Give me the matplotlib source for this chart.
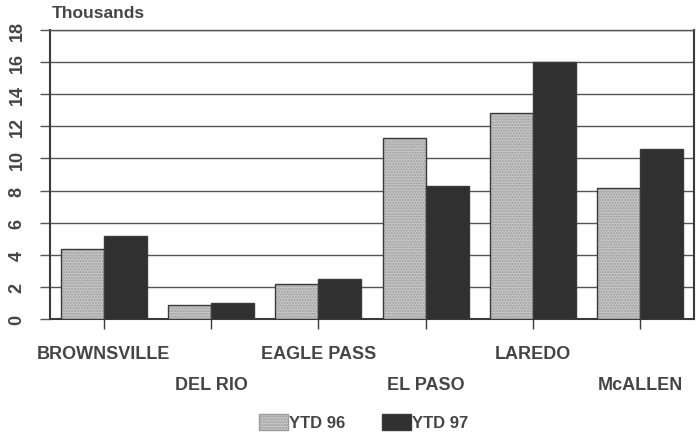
import matplotlib
matplotlib.use("Agg")
import matplotlib.pyplot as plt
import numpy as np
from matplotlib.patches import Patch

# Data (thousands)
PORTS = ["BROWNSVILLE", "DEL RIO", "EAGLE PASS", "EL PASO", "LAREDO", "McALLEN"]
YTD_96 = [4.35, 0.87, 2.2, 11.3, 12.85, 8.15]
YTD_97 = [5.15, 1.0, 2.5, 8.3, 16.0, 10.6]
SERIES = ["YTD 96", "YTD 97"]
Y_TICKS = [0, 2, 4, 6, 8, 10, 12, 14, 16, 18]

LIGHT = "#c6c6c6"
DOTS = "#9c9c9c"
DARK = "#303030"
LINE = "#3a3a3a"
TEXT = "#454545"

plt.rcParams["font.family"] = ["Liberation Sans", "DejaVu Sans"]
plt.rcParams["font.weight"] = "bold"

fig = plt.figure(figsize=(7, 4.35), dpi=100)
ax = fig.add_axes([50 / 700, 1 - 320 / 435, 644 / 700, 289 / 435])

x = np.arange(len(PORTS))
w = 0.4
# light bars: fine dotted fill, then outline on top
ax.bar(x - w / 2, YTD_96, w, color=LIGHT, edgecolor=DOTS, linewidth=0,
       hatch="......", zorder=3)
ax.bar(x - w / 2, YTD_96, w, fill=False, edgecolor=LINE, linewidth=1.0, zorder=4)
ax.bar(x + w / 2, YTD_97, w, color=DARK, edgecolor=LINE, linewidth=1.0, zorder=3)

ax.set_xlim(-0.5, len(PORTS) - 0.5)
ax.set_ylim(0, 18)
ax.set_yticks(Y_TICKS)
ax.set_yticklabels([str(t) for t in Y_TICKS], rotation=90, va="center",
                   fontsize=13, color=TEXT)
ax.yaxis.grid(True, color="#555555", linewidth=1.0, zorder=0)
ax.set_axisbelow(True)
ax.tick_params(axis="y", length=7.5, width=1.0, color="#555555", pad=10)

ax.set_xticks(x)
ax.set_xticklabels([""] * len(PORTS))
ax.tick_params(axis="x", length=7, width=1.0, color=LINE)

for i, name in enumerate(PORTS):
    off = -25 if i % 2 == 0 else -47
    ax.annotate(name, xy=(i, 0), xycoords=("data", "axes fraction"),
                xytext=(0, off), textcoords="offset points",
                ha="center", va="center", fontsize=13, color=TEXT)

for s in ["left", "right", "bottom"]:
    ax.spines[s].set_color(LINE)
    ax.spines[s].set_linewidth(1.5)
ax.spines["top"].set_color("#555555")
ax.spines["top"].set_linewidth(1.0)

fig.text(52 / 700, 1 - 14 / 435, "Thousands", fontsize=12.5, color=TEXT,
         ha="left", va="center")

handles = [Patch(facecolor=LIGHT, edgecolor=DOTS, hatch="......", label=SERIES[0]),
           Patch(facecolor=DARK, edgecolor=LINE, label=SERIES[1])]
fig.legend(handles=handles, loc="center", bbox_to_anchor=(364 / 700, 1 - 423 / 435),
           ncol=2, frameon=False, fontsize=12, handlelength=1.7, handleheight=1.1,
           handletextpad=0.1, columnspacing=2.2, labelcolor=TEXT)

fig.savefig("out.png", dpi=100, facecolor="white")
